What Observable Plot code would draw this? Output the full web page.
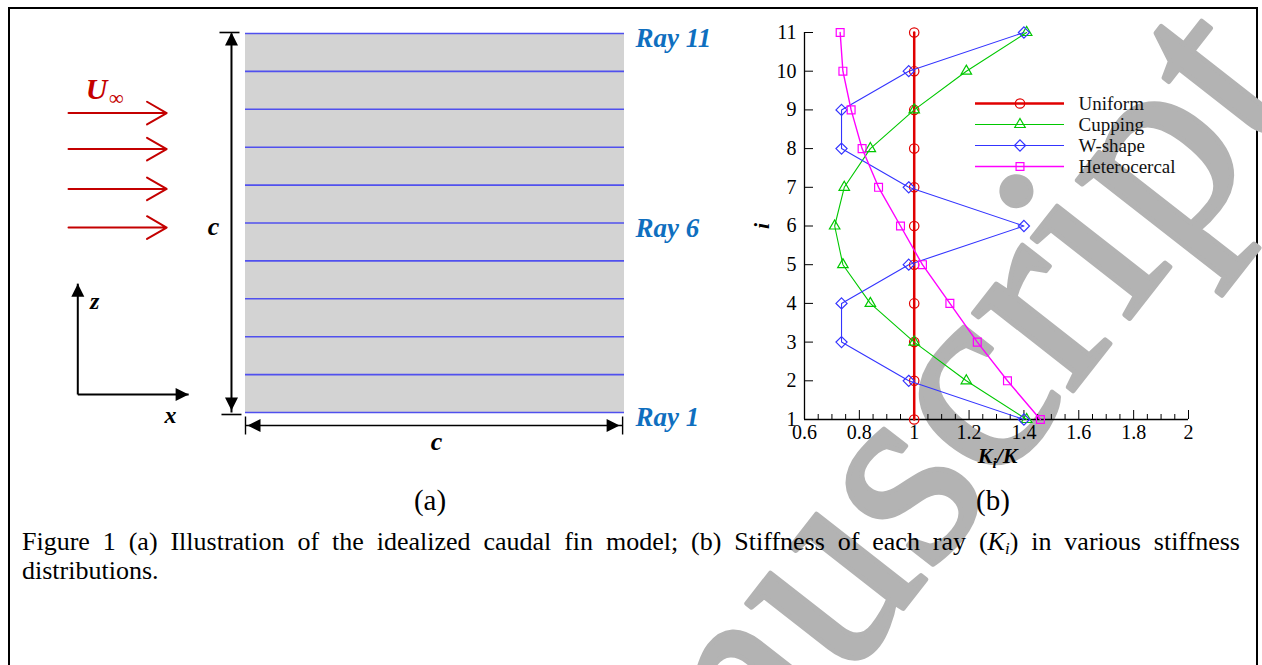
<!DOCTYPE html>
<html><head><meta charset="utf-8">
<script src="https://cdn.jsdelivr.net/npm/d3@7"></script>
<script src="https://cdn.jsdelivr.net/npm/@observablehq/plot@0.6"></script>
<style>
html,body{margin:0;padding:0;background:#fff;}
#fig{position:relative;width:1262px;height:665px;overflow:hidden;background:#fff;font-family:"Liberation Serif","Times New Roman",serif;color:#000;}
#frame{position:absolute;left:8px;top:7px;width:1246px;height:700px;border:2px solid #000;}
.abs{position:absolute;}
.panel{position:absolute;font-size:29px;line-height:29px;transform:translate(-50%,-50%);}
#caption{position:absolute;left:22px;top:527px;width:1218px;font-size:26px;line-height:29px;text-align:justify;}
#caption sub{font-size:17px;vertical-align:-4px;line-height:0;}
</style></head><body>
<div id="fig">
  <div id="frame"></div>
  <svg id="wm" class="abs" width="1262" height="665" style="left:0;top:0">
    <text id="wmt" font-family="Liberation Serif, Times New Roman, serif" font-size="275" fill="#b3b3b3" stroke="#b3b3b3" stroke-width="5" stroke-linejoin="round" transform="translate(844,684) rotate(-52)">Accepted Manuscript</text>
  </svg>
  <div id="plotA" class="abs" style="left:0;top:0"></div>
  <div id="plotB" class="abs" style="left:740px;top:0"></div>
  <div id="legend" class="abs" style="left:960px;top:88px"></div>
  <div class="panel" style="left:430px;top:500px">(a)</div>
  <div class="panel" style="left:993px;top:500px">(b)</div>
  <div id="caption">Figure 1 (a) Illustration of the idealized caudal fin model; (b) Stiffness of each ray (<i>K<sub>i</sub></i>) in various stiffness distributions.</div>
</div>
<script>
// ---------- data ----------
const rayIndex = [1, 2, 3, 4, 5, 6, 7, 8, 9, 10, 11];
const labeledRays = [1, 6, 11];
const flowLevels = [8.9, 7.95, 6.9, 5.88];          // z-levels (ray units) of the free-stream arrows
const seriesNames = ["Uniform", "Cupping", "W-shape", "Heterocercal"];
const uniformK = [1, 1, 1, 1, 1, 1, 1, 1, 1, 1, 1];
const cuppingK = [1.41, 1.19, 1.0, 0.84, 0.74, 0.71, 0.745, 0.84, 1.0, 1.19, 1.41];
const wShapeK = [1.40, 0.98, 0.735, 0.735, 0.98, 1.40, 0.98, 0.735, 0.735, 0.98, 1.40];
const heteroK = [1.46, 1.34, 1.23, 1.13, 1.03, 0.95, 0.87, 0.81, 0.77, 0.74, 0.73];
const xMajorTicks = [0.6, 0.8, 1, 1.2, 1.4, 1.6, 1.8, 2];
const xTickLabels = ["0.6", "0.8", "1", "1.2", "1.4", "1.6", "1.8", "2"];
const xMinorTicks = [0.65, 0.7, 0.75, 0.85, 0.9, 0.95, 1.05, 1.1, 1.15, 1.25, 1.3, 1.35, 1.45, 1.5, 1.55, 1.65, 1.7, 1.75, 1.85, 1.9, 1.95];
const yTicks = [1, 2, 3, 4, 5, 6, 7, 8, 9, 10, 11];

// ---------- styles ----------
const serif = "Liberation Serif, Times New Roman, serif";
const seriesColors = ["#e00000", "#00c800", "#3434ff", "#ff00ff"];
const seriesWidths = [2.5, 1.1, 1.1, 1.4];
const seriesSymbols = ["circle", "triangle2", "diamond2", "square2"];
const seriesValues = [uniformK, cuppingK, wShapeK, heteroK];

// watermark: shift so that "uscript" starts at the anchor point
const wmt = document.getElementById("wmt");
wmt.setAttribute("x", -wmt.getSubStringLength(0, 12));

// ---------- (a) diagram in chord (x) and ray (z) units ----------
const flowX = [-0.467, -0.208];
const dimV = -0.037, dimH = 0.657;
const origin = [-0.4425, 1.475], zTip = 4.40, xTip = -0.15;

const tipUp = {draw(c){c.moveTo(0,0);c.lineTo(6.5,13);c.lineTo(-6.5,13);c.closePath();}};
const tipDown = {draw(c){c.moveTo(0,0);c.lineTo(6.5,-13);c.lineTo(-6.5,-13);c.closePath();}};
const tipRight = {draw(c){c.moveTo(0,0);c.lineTo(-13,6.5);c.lineTo(-13,-6.5);c.closePath();}};
const tipLeft = {draw(c){c.moveTo(0,0);c.lineTo(13,6.5);c.lineTo(13,-6.5);c.closePath();}};
const hBar = {draw(c){c.moveTo(-10,0);c.lineTo(10,0);}};
const vBar = {draw(c){c.moveTo(0,-9);c.lineTo(0,9);}};
const bi = {fontWeight: "bold", fontStyle: "italic", fontFamily: serif};

const plotA = Plot.plot({
  width: 740, height: 470, margin: 0,
  x: {domain: [0, 1], range: [245, 624], axis: null},
  y: {domain: [1, 11], range: [412, 33], axis: null},
  style: {background: "transparent", overflow: "visible"},
  marks: [
    Plot.rect([0], {x1: 0, x2: 1, y1: 1, y2: 11, fill: "#d3d3d3"}),
    Plot.ruleY(rayIndex, {y: d => d, x1: 0, x2: 1, stroke: "#5050ee", strokeWidth: 1.6}),
    Plot.text(labeledRays, {x: 1, y: d => d, text: d => `Ray ${d}`, dx: 11, dy: 5, textAnchor: "start", fill: "#0f6fbf", fontSize: 27, ...bi}),
    // free-stream arrows
    Plot.arrow(flowLevels, {x1: flowX[0], x2: flowX[1], y1: d => d, y2: d => d, stroke: "#c40000", strokeWidth: 2, headLength: 17, headAngle: 60}),
    Plot.text(["U"], {x: -0.393, y: 9.52, text: d => d, fill: "#c40000", fontSize: 30, ...bi}),
    Plot.text(["∞"], {x: -0.341, y: 9.30, text: d => d, fill: "#c40000", fontSize: 21, fontFamily: serif}),
    // vertical dimension c
    Plot.link([0], {x1: dimV, x2: dimV, y1: 1, y2: 11, stroke: "#000", strokeWidth: 2}),
    Plot.dot([11], {x: dimV, y: d => d, symbol: tipUp, fill: "#000", stroke: "none", dy: -1}),
    Plot.dot([1], {x: dimV, y: d => d, symbol: tipDown, fill: "#000", stroke: "none", dy: -2}),
    Plot.dot([11], {x: dimV, y: d => d, symbol: hBar, stroke: "#000", strokeWidth: 1.6, dy: -1, dx: -2}),
    Plot.dot([1], {x: dimV, y: d => d, symbol: hBar, stroke: "#000", strokeWidth: 1.6, dy: 2}),
    Plot.text(["c"], {x: -0.0844, y: 5.91, text: d => d, fontSize: 26, ...bi}),
    // horizontal dimension c
    Plot.link([0], {x1: 0, x2: 0.995, y1: dimH, y2: dimH, stroke: "#000", strokeWidth: 1.6}),
    Plot.dot([0], {x: d => d, y: dimH, symbol: tipLeft, fill: "#000", stroke: "none", dx: 2}),
    Plot.dot([0.995], {x: d => d, y: dimH, symbol: tipRight, fill: "#000", stroke: "none", dx: -3}),
    Plot.dot([0, 0.995], {x: d => d, y: dimH, symbol: vBar, stroke: "#000", strokeWidth: 1.4}),
    Plot.text(["c"], {x: 0.504, y: 0.235, text: d => d, fontSize: 26, ...bi}),
    // coordinate frame
    Plot.link([0], {x1: origin[0], x2: origin[0], y1: origin[1], y2: zTip, stroke: "#000", strokeWidth: 2}),
    Plot.link([0], {x1: origin[0], x2: xTip, y1: origin[1], y2: origin[1], stroke: "#000", strokeWidth: 2}),
    Plot.dot([zTip], {x: origin[0], y: d => d, symbol: tipUp, fill: "#000", stroke: "none"}),
    Plot.dot([xTip], {x: d => d, y: origin[1], symbol: tipRight, fill: "#000", stroke: "none"}),
    Plot.text(["z"], {x: -0.398, y: 3.93, text: d => d, fontSize: 24, ...bi}),
    Plot.text(["x"], {x: -0.198, y: 0.92, text: d => d, fontSize: 24, ...bi})
  ]
});
document.getElementById("plotA").append(plotA);

// ---------- (b) stiffness chart ----------
const rows = seriesNames.flatMap((s, j) => rayIndex.map((i, n) => ({series: s, i, k: seriesValues[j][n]})));
const seriesMarks = seriesNames.flatMap((s, j) => {
  const d = rows.filter(r => r.series === s);
  return [
    Plot.line(d, {x: "k", y: "i", stroke: seriesColors[j], strokeWidth: seriesWidths[j]}),
    Plot.dot(d, {x: "k", y: "i", symbol: seriesSymbols[j], r: j === 0 ? 4.7 : 5, stroke: seriesColors[j], strokeWidth: 1.2, fill: "none"})
  ];
});

const plotB = Plot.plot({
  width: 500, height: 470,
  marginLeft: 64, marginRight: 52, marginTop: 32, marginBottom: 51,
  x: {domain: [0.6, 2]},
  y: {domain: [1, 11]},
  style: {background: "transparent", overflow: "visible"},
  marks: [
    Plot.ruleX([0.6], {y1: 1, y2: 11, stroke: "#000", strokeWidth: 1.3}),
    Plot.ruleY([1], {x1: 0.6, x2: 2, stroke: "#000", strokeWidth: 1.3}),
    Plot.ruleX(xMajorTicks, {x: d => d, y1: 1, y2: 1, insetTop: -9, stroke: "#000"}),
    Plot.ruleX(xMinorTicks, {x: d => d, y1: 1, y2: 1, insetTop: -5, stroke: "#000"}),
    Plot.ruleY(yTicks, {y: d => d, x1: 0.6, x2: 0.6, insetRight: -9, stroke: "#000"}),
    Plot.axisX(xMajorTicks, {tickSize: 0, tickPadding: 5, tickFormat: d => xTickLabels[xMajorTicks.indexOf(d)], fontSize: 20, fontFamily: serif, label: null, fill: "#000"}),
    Plot.axisY(yTicks, {tickSize: 0, tickPadding: 8, fontSize: 20, fontFamily: serif, label: null, fill: "#000"}),
    ...seriesMarks,
    Plot.text(["i"], {x: 0.6, y: 6, dx: -43, rotate: -90, text: d => d, fontSize: 22, ...bi}),
    Plot.text(["Ki/K"], {x: 1.304, y: 1, dy: 36, text: d => d, fontSize: 22, ...bi})
  ]
});
d3.select(plotB).selectAll("text").filter(function () { return this.textContent === "Ki/K"; }).each(function () {
  const t = d3.select(this);
  t.text(null);
  t.append("tspan").text("K");
  t.append("tspan").attr("dy", 5).attr("font-size", 15).text("i");
  t.append("tspan").attr("dy", -5).text("/K");
});
document.getElementById("plotB").append(plotB);

// ---------- legend ----------
const legend = Plot.plot({
  width: 230, height: 95, margin: 0,
  x: {domain: [0, 1], range: [15, 104], axis: null},
  y: {type: "point", domain: seriesNames, range: [13.5, 79], padding: 0, axis: null},
  style: {background: "transparent", overflow: "visible"},
  marks: seriesNames.flatMap((s, j) => [
    Plot.ruleY([s], {y: d => d, x1: 0, x2: 1, stroke: seriesColors[j], strokeWidth: seriesWidths[j]}),
    Plot.dot([s], {x: 0.5, y: d => d, symbol: seriesSymbols[j], r: j === 0 ? 4.7 : 5, stroke: seriesColors[j], strokeWidth: 1.2, fill: "none"}),
    Plot.text([s], {x: 1, y: d => d, dx: 14, text: d => d, textAnchor: "start", fontSize: 19, fontFamily: serif, fill: "#111"})
  ])
});
document.getElementById("legend").append(legend);
</script>
</body></html>
